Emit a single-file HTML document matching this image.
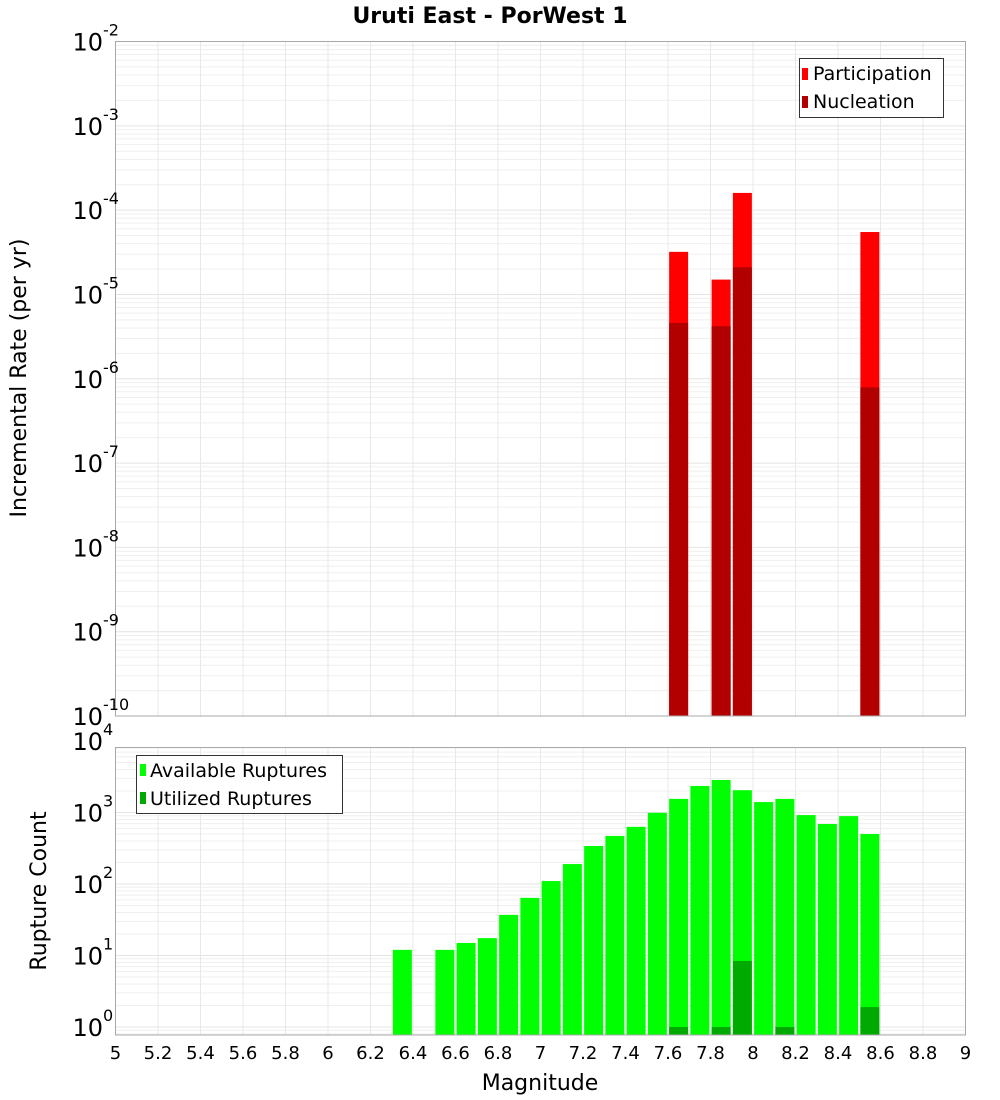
<!DOCTYPE html>
<html><head><meta charset="utf-8"><style>
body{margin:0;background:#fff;}
svg{display:block;font-family:"DejaVu Sans","Liberation Sans",sans-serif;}
</style></head><body>
<svg id="c" width="1000" height="1100" viewBox="0 0 1000 1100"></svg>
<script>
const binCenters = [6.35,6.55,6.65,6.75,6.85,6.95,7.05,7.15,7.25,7.35,7.45,7.55,7.65,7.75,7.85,7.95,8.05,8.15,8.25,8.35,8.45,8.55];
const availableCounts = [12,12,15,17.5,37,64,110,190,340,470,630,990,1550,2350,2850,2050,1400,1550,920,690,890,500];
const utilizedMags = [7.65,7.85,7.95,8.15,8.55];
const utilizedCounts = [1,1,8.4,1,1.9];
const rateMags = [7.65,7.85,7.95,8.55];
const participationRates = [3.2e-5,1.5e-5,1.6e-4,5.5e-5];
const nucleationRates = [4.6e-6,4.2e-6,2.1e-5,7.9e-7];
const xTicks = [5,5.2,5.4,5.6,5.8,6,6.2,6.4,6.6,6.8,7,7.2,7.4,7.6,7.8,8,8.2,8.4,8.6,8.8,9];
const topExps = [-2,-3,-4,-5,-6,-7,-8,-9,-10];
const botExps = [0,1,2,3,4];

const NS="http://www.w3.org/2000/svg";
const svg=document.getElementById('c');
function mk(t,a,p){const e=document.createElementNS(NS,t);for(const k in a)e.setAttribute(k,a[k]);(p||svg).appendChild(e);return e;}
const X0=115.5,X1=965.5;
const xs=m=>X0+(m-5)/4*(X1-X0);
const TY0=41.5,TY1=716;
const yTop=v=>TY0+(-2-Math.log10(v))*(TY1-TY0)/8;
const BY0=747.5,BY1=1035;
const yBot=v=>1027-71.5*Math.log10(v);
const BW=19;

function grid(y0,y1,yf,expLo,expHi){
  for(let e=expLo;e<expHi;e++){for(let k=1;k<10;k++){const y=yf(k*Math.pow(10,e));if(y>=y0&&y<=y1){const l=mk('line',{x1:X0,x2:X1,y1:y,y2:y,stroke:k==1?'#e4e4e4':'#efefef','stroke-width':1});

}}}
  xTicks.forEach(t=>{const x=xs(t);const l=mk('line',{x1:x,x2:x,y1:y0,y2:y1,stroke:'#e8e8e8','stroke-width':1});

});
}
grid(TY0,TY1,yTop,-10,-1);
grid(BY0,BY1,yBot,-1,4);

// top bars
rateMags.forEach((m,i)=>{
  const x=xs(m)-BW/2;
  const yp=yTop(participationRates[i]);
  const r=mk('rect',{x:x,y:yp,width:BW,height:TY1-yp,fill:'#ff0000'});
  
  
  const yn=yTop(nucleationRates[i]);
  const r2=mk('rect',{x:x,y:yn,width:BW,height:TY1-yn,fill:'#b20000'});
  
  
});
// bottom bars
binCenters.forEach((m,i)=>{
  const y=yBot(availableCounts[i]);
  const r=mk('rect',{x:xs(m)-BW/2,y:y,width:BW,height:BY1-y,fill:'#00ff00'});
  
  
});
utilizedMags.forEach((m,i)=>{
  const y=yBot(utilizedCounts[i]);
  const r=mk('rect',{x:xs(m)-BW/2,y:y,width:BW,height:BY1-y,fill:'#00aa00'});
  
  
});

// frames
const f1=mk('rect',{x:X0,y:TY0,width:X1-X0,height:TY1-TY0,fill:'none',stroke:'#a8a8a8'});


const f2=mk('rect',{x:X0,y:BY0,width:X1-X0,height:BY1-BY0,fill:'none',stroke:'#a8a8a8'});



// y tick labels
function ylab(y,exp){
  const t=mk('text',{x:103,y:y+9,'text-anchor':'end','font-size':24,fill:'#000'});
  t.textContent='10';
  
  
  const s=mk('text',{x:103,y:y-6,'font-size':16,fill:'#000'});
  s.textContent=String(exp);
  
  
}
topExps.forEach(e=>ylab(yTop(Math.pow(10,e)),e));
botExps.forEach(e=>ylab(yBot(Math.pow(10,e)),e));

xTicks.forEach(t=>{
  const tx=mk('text',{x:xs(t),y:1059,'text-anchor':'middle','font-size':18,fill:'#000'});
  tx.textContent=String(t);
  
  
});
</script>
<svg width="0" height="0"></svg>
<div style="position:absolute;left:0;top:0;width:1000px;height:1100px;pointer-events:none;">
<svg width="1000" height="1100" style="position:absolute;left:0;top:0;font-family:'DejaVu Sans','Liberation Sans',sans-serif;">
<text x="490" y="23" text-anchor="middle" font-size="22" font-weight="bold">Uruti East - PorWest 1</text>
<text x="540" y="1090" text-anchor="middle" font-size="22">Magnitude</text>
<text transform="translate(26,378) rotate(-90)" text-anchor="middle" font-size="22">Incremental Rate (per yr)</text>
<text transform="translate(46,891) rotate(-90)" text-anchor="middle" font-size="22">Rupture Count</text>
<g>
<rect x="799.5" y="58.5" width="144" height="59" fill="#fff" stroke="#333"/>
<rect x="802" y="68" width="6" height="12" fill="#ff0000"/>
<text x="813" y="80" font-size="19">Participation</text>
<rect x="802" y="96" width="6" height="12" fill="#b20000"/>
<text x="813" y="108" font-size="19">Nucleation</text>
</g>
<g>
<rect x="136.5" y="755.5" width="206" height="58" fill="#fff" stroke="#333"/>
<rect x="140" y="764" width="6" height="12" fill="#00ff00"/>
<text x="150" y="777" font-size="19">Available Ruptures</text>
<rect x="140" y="792" width="6" height="12" fill="#00aa00"/>
<text x="150" y="805" font-size="19">Utilized Ruptures</text>
</g>
</svg>
</div>
</body></html>
